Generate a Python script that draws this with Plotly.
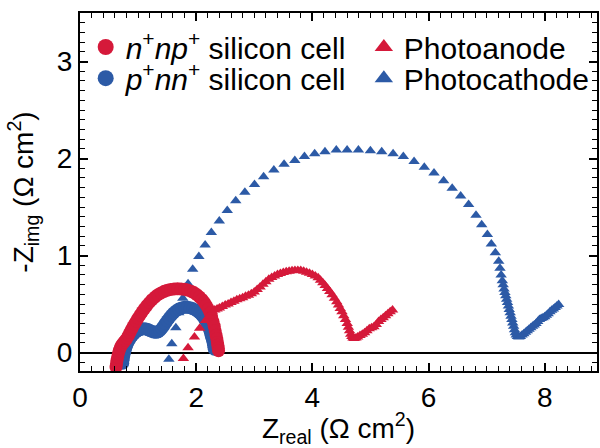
import plotly.graph_objects as go

# ---- impedance spectra (Nyquist), Z in ohm cm^2 ----
# n+np+ silicon cell (circles, red)
npp_cell_zreal = [
    0.620, 0.628, 0.637, 0.648, 0.660, 0.675, 0.692, 0.712, 0.735, 0.760,
    0.785, 0.810, 0.835, 0.860, 0.885, 0.910, 0.940, 0.970, 1.000, 1.035,
    1.070, 1.110, 1.150, 1.195, 1.240, 1.290, 1.340, 1.395, 1.450, 1.505,
    1.560, 1.620, 1.680, 1.740, 1.800, 1.855, 1.910, 1.960, 2.010, 2.055,
    2.100, 2.140, 2.175, 2.210, 2.240, 2.265, 2.290, 2.310, 2.328, 2.343,
    2.355, 2.365, 2.373, 2.380, 2.385,
]
npp_cell_zimg = [
    -0.150, -0.115, -0.080, -0.045, -0.012, 0.020, 0.048, 0.072, 0.092, 0.110,
    0.128, 0.150, 0.178, 0.208, 0.238, 0.265, 0.295, 0.325, 0.355, 0.388,
    0.420, 0.452, 0.484, 0.516, 0.545, 0.572, 0.596, 0.615, 0.631, 0.643,
    0.651, 0.655, 0.657, 0.656, 0.652, 0.644, 0.633, 0.618, 0.598, 0.575,
    0.548, 0.518, 0.485, 0.448, 0.408, 0.365, 0.320, 0.272, 0.225, 0.178,
    0.140, 0.105, 0.075, 0.045, 0.020,
]

# p+nn+ silicon cell (circles, blue)
pnn_cell_zreal = [
    0.735, 0.740, 0.748, 0.758, 0.770, 0.785, 0.802, 0.822, 0.845, 0.870,
    0.898, 0.928, 0.960, 0.995, 1.030, 1.065, 1.100, 1.135, 1.170, 1.205,
    1.240, 1.275, 1.310, 1.345, 1.378, 1.408, 1.438, 1.468, 1.500, 1.535,
    1.572, 1.612, 1.655, 1.700, 1.748, 1.798, 1.848, 1.895, 1.940, 1.985,
    2.025, 2.063, 2.098, 2.130, 2.160, 2.187, 2.210, 2.230, 2.247, 2.262,
    2.280, 2.292, 2.301, 2.308, 2.312,
]
pnn_cell_zimg = [
    -0.110, -0.080, -0.050, -0.020, 0.010, 0.040, 0.070, 0.098, 0.125, 0.150,
    0.172, 0.192, 0.210, 0.225, 0.236, 0.243, 0.246, 0.244, 0.237, 0.227,
    0.218, 0.211, 0.209, 0.214, 0.228, 0.248, 0.272, 0.300, 0.328, 0.356,
    0.384, 0.409, 0.431, 0.448, 0.460, 0.466, 0.466, 0.462, 0.453, 0.440,
    0.424, 0.405, 0.383, 0.358, 0.330, 0.300, 0.268, 0.234, 0.198, 0.162,
    0.130, 0.100, 0.075, 0.055, 0.035,
]

# Photoanode (triangles, red)
anode_zreal = [
    1.78, 1.86, 1.97, 2.06, 2.16, 2.23, 2.28, 2.32, 2.36, 2.40,
    2.45, 2.50, 2.55, 2.60, 2.65, 2.70, 2.75, 2.80, 2.85, 2.90,
    2.95, 3.00, 3.05, 3.10, 3.15, 3.20, 3.25, 3.30, 3.35, 3.40,
    3.45, 3.50, 3.55, 3.60, 3.65, 3.70, 3.75, 3.80, 3.85, 3.90,
    3.95, 4.00, 4.05, 4.10, 4.14, 4.18, 4.22, 4.26, 4.30, 4.34,
    4.38, 4.42, 4.45, 4.48, 4.51, 4.54, 4.57, 4.60, 4.62, 4.64,
    4.66, 4.68, 4.70, 4.72, 4.75, 4.78, 4.82, 4.86, 4.90, 4.94,
    4.98, 5.02, 5.06, 5.10, 5.14, 5.18, 5.22, 5.26, 5.30, 5.34,
    5.38,
]
anode_zimg = [
    -0.06, 0.05, 0.16, 0.25, 0.33, 0.38, 0.42, 0.44, 0.45, 0.46,
    0.475, 0.49, 0.50, 0.515, 0.53, 0.545, 0.555, 0.565, 0.58, 0.59,
    0.605, 0.625, 0.65, 0.675, 0.705, 0.73, 0.755, 0.775, 0.79, 0.805,
    0.815, 0.825, 0.832, 0.838, 0.843, 0.846, 0.847, 0.845, 0.838, 0.828,
    0.818, 0.805, 0.79, 0.77, 0.745, 0.72, 0.69, 0.66, 0.63, 0.595,
    0.56, 0.525, 0.49, 0.455, 0.42, 0.38, 0.34, 0.30, 0.26, 0.225,
    0.19, 0.165, 0.15, 0.145, 0.15, 0.16, 0.175, 0.19, 0.205, 0.225,
    0.245, 0.255, 0.265, 0.29, 0.32, 0.34, 0.36, 0.38, 0.40, 0.42,
    0.44,
]

# Photocathode (triangles, blue)
cathode_zreal = [
    1.53, 1.58, 1.65, 1.70, 1.77, 1.86, 1.94, 2.046, 2.154, 2.261,
    2.398, 2.535, 2.681, 2.838, 3.004, 3.161, 3.337, 3.513, 3.698, 3.864,
    4.040, 4.217, 4.412, 4.598, 4.793, 4.999, 5.194, 5.390, 5.566, 5.751,
    5.927, 6.094, 6.260, 6.407, 6.553, 6.690, 6.817, 6.915, 7.013, 7.081,
    7.150, 7.208, 7.23, 7.25, 7.27, 7.285, 7.30, 7.315, 7.33, 7.345,
    7.36, 7.375, 7.39, 7.405, 7.42, 7.435, 7.45, 7.465, 7.48, 7.495,
    7.51, 7.53, 7.555, 7.58, 7.61, 7.64, 7.67, 7.70, 7.73, 7.76,
    7.79, 7.82, 7.85, 7.88, 7.91, 7.94, 7.97, 8.00, 8.03, 8.06,
    8.09, 8.12, 8.15, 8.18, 8.21, 8.24,
]
cathode_zimg = [
    -0.07, 0.09, 0.255, 0.41, 0.56, 0.71, 0.86, 0.99, 1.109, 1.238,
    1.356, 1.465, 1.564, 1.653, 1.732, 1.812, 1.881, 1.940, 1.980, 2.020,
    2.049, 2.069, 2.089, 2.089, 2.089, 2.079, 2.069, 2.049, 2.020, 1.970,
    1.911, 1.851, 1.772, 1.693, 1.614, 1.525, 1.416, 1.317, 1.218, 1.119,
    1.030, 0.941, 0.87, 0.80, 0.74, 0.70, 0.655, 0.62, 0.585, 0.55,
    0.515, 0.48, 0.445, 0.41, 0.375, 0.34, 0.305, 0.27, 0.235, 0.205,
    0.18, 0.165, 0.16, 0.165, 0.18, 0.195, 0.21, 0.225, 0.24, 0.255,
    0.27, 0.285, 0.30, 0.32, 0.34, 0.35, 0.36, 0.37, 0.385, 0.40,
    0.42, 0.435, 0.45, 0.465, 0.48, 0.495,
]

# axis ticks
x_major = [0, 1, 2, 3, 4, 5, 6, 7, 8]
x_major_text = ["0", "", "2", "", "4", "", "6", "", "8"]
y_major = [0, 1, 2, 3]
y_major_text = ["0", "1", "2", "3"]

RED = "#D5193A"
BLUE = "#2C5AA6"
FONT = "Liberation Sans, Arial, Helvetica, sans-serif"

fig = go.Figure()

# draw order: blue triangles, blue circles, red circles, red triangles
fig.add_trace(go.Scatter(
    x=cathode_zreal, y=cathode_zimg, mode="markers", showlegend=False,
    marker=dict(symbol="triangle-up", size=10, color=BLUE, line=dict(width=0)),
))
fig.add_trace(go.Scatter(
    x=pnn_cell_zreal, y=pnn_cell_zimg, mode="markers", showlegend=False,
    marker=dict(symbol="circle", size=13, color=BLUE, line=dict(width=0)),
))
fig.add_trace(go.Scatter(
    x=npp_cell_zreal, y=npp_cell_zimg, mode="markers", showlegend=False,
    marker=dict(symbol="circle", size=13, color=RED, line=dict(width=0)),
))
fig.add_trace(go.Scatter(
    x=anode_zreal, y=anode_zimg, mode="markers", showlegend=False,
    marker=dict(symbol="triangle-up", size=10, color=RED, line=dict(width=0)),
))

# legend entries (one legend box per entry, laid out as a 2x2 grid)
legend_entries = [
    ("<i>n</i><sup>+</sup><i>np</i><sup>+</sup> silicon cell", "circle", RED, "legend"),
    ("<i>p</i><sup>+</sup><i>nn</i><sup>+</sup> silicon cell", "circle", BLUE, "legend2"),
    ("Photoanode", "triangle-up", RED, "legend3"),
    ("Photocathode", "triangle-up", BLUE, "legend4"),
]
for name, sym, col, lg in legend_entries:
    fig.add_trace(go.Scatter(
        x=[None], y=[None], mode="markers", name=name, legend=lg,
        marker=dict(symbol=sym, size=16, color=col, line=dict(width=0)),
    ))

legend_style = dict(
    bgcolor="rgba(0,0,0,0)", borderwidth=0, font=dict(family=FONT, size=30, color="black"),
    xanchor="left", yanchor="middle", itemwidth=30, tracegroupgap=0,
)
col1_x, col2_x = 0.011, 0.549
row1_y, row2_y = 0.905, 0.818

axis_common = dict(
    showline=True, linecolor="black", linewidth=2, mirror="ticks",
    ticks="inside", tickcolor="black", tickwidth=1.5, ticklen=8,
    showgrid=False, tickfont=dict(family=FONT, size=28, color="black"),
)

fig.update_layout(
    width=600, height=448,
    margin=dict(l=80, r=1, t=13, b=75),
    paper_bgcolor="white", plot_bgcolor="white",
    font=dict(family=FONT, color="black"),
    legend=dict(x=col1_x, y=row1_y, **legend_style),
    legend2=dict(x=col1_x, y=row2_y, **legend_style),
    legend3=dict(x=col2_x, y=row1_y, **legend_style),
    legend4=dict(x=col2_x, y=row2_y, **legend_style),
    xaxis=dict(
        range=[0, 8.9], tickmode="array", tickvals=x_major, ticktext=x_major_text,
        zeroline=False,
        minor=dict(tickmode="array", tickvals=[i * 0.2 for i in range(45)],
                   ticks="inside", ticklen=5, tickcolor="black", tickwidth=1.3),
        title=dict(text="Z<sub>real</sub> (Ω cm<sup>2</sup>)",
                   font=dict(family=FONT, size=28, color="black")),
        **axis_common,
    ),
    yaxis=dict(
        range=[-0.19, 3.5], tickmode="array", tickvals=y_major, ticktext=y_major_text,
        zeroline=True, zerolinecolor="black", zerolinewidth=2,
        minor=dict(tickmode="array", tickvals=[-0.1 + i * 0.1 for i in range(37)],
                   ticks="inside", ticklen=5, tickcolor="black", tickwidth=1.3),
        title=dict(text="-Z<sub>img</sub> (Ω cm<sup>2</sup>)",
                   font=dict(family=FONT, size=28, color="black")),
        **axis_common,
    ),
)

fig.write_html("out.html")
